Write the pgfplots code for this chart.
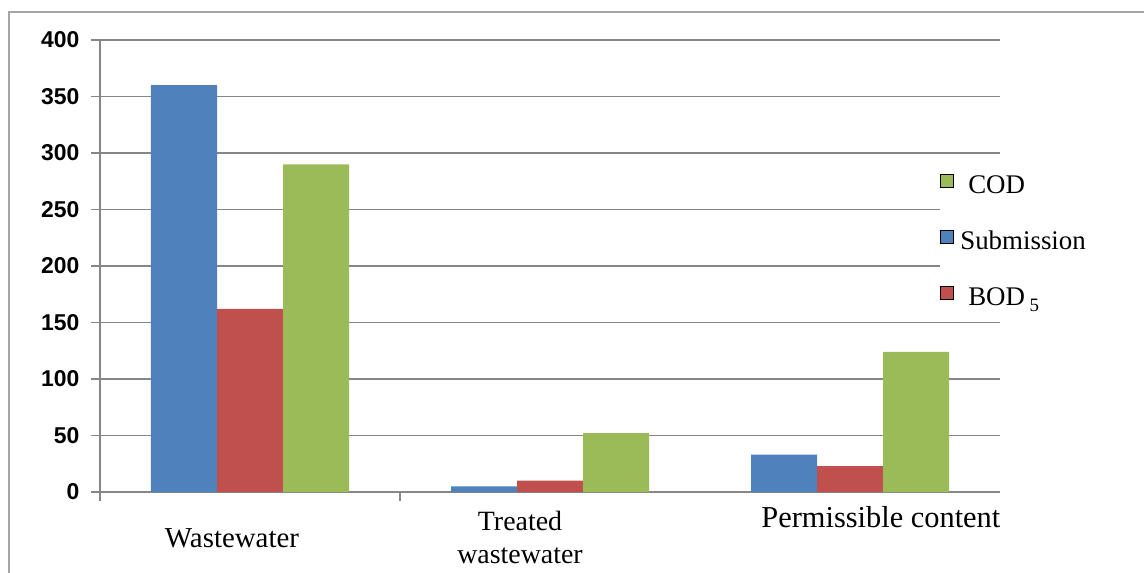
\documentclass[border=0pt]{standalone}
\usepackage{fontspec}
\setmainfont{Liberation Serif}
\newfontfamily\arialf{Liberation Sans}
\usepackage{pgfplots}
\pgfplotsset{compat=1.18}
\definecolor{cblue}{HTML}{4F81BD}
\definecolor{cred}{HTML}{C0504D}
\definecolor{cgreen}{HTML}{9BBB59}
\definecolor{gridc}{HTML}{868686}
\definecolor{framec}{HTML}{A6A6A6}
\begin{document}
\begin{tikzpicture}
\useasboundingbox (-100bp,-81bp) rectangle (1044bp,492bp);
\begin{axis}[
  at={(0,0)}, anchor=south west,
  scale only axis, width=900bp, height=452bp,
  xmin=-0.5, xmax=2.5, ymin=0, ymax=400,
  clip=false,
  axis lines*=left,
  axis line style={gridc, line width=1.4bp},
  every tick/.style={gridc, line width=1.4bp},
  tick align=outside,
  major tick length=9bp,
  xtick={-0.5,0.5}, xticklabels={},
  ytick={0,50,...,400},
  ymajorgrids,
  grid style={gridc, line width=1.4bp},
  /pgf/number format/assume math mode=true,
  yticklabel style={font=\arialf\bfseries\fontsize{23}{23}\selectfont, anchor=east, xshift=-8bp},
  ybar, bar width=66bp,
  legend style={at={(0.933,0.708)}, anchor=north west, draw=none, fill=white,
    font=\fontsize{27}{27}\selectfont, inner sep=0pt, row sep=27bp,
    nodes={inner sep=2bp, text height=19bp, text depth=6bp}},
  legend cell align=left,
  legend image code/.code={\fill[#1] (0bp,-1bp) rectangle (13bp,12bp);},
]
\addlegendimage{fill=cgreen}\addlegendentry{\hspace{13bp}COD}
\addlegendimage{fill=cblue}\addlegendentry{\hspace{5bp}Submission}
\addlegendimage{fill=cred}\addlegendentry{\hspace{13bp}BOD\,\raisebox{-6bp}{\fontsize{19}{19}\selectfont 5}}
\addplot[fill=cblue, draw=none, bar shift=-66bp, forget plot] coordinates {(0,360) (1,5) (2,33)};
\addplot[fill=cred, draw=none, bar shift=0bp, forget plot] coordinates {(0,162) (1,10) (2,23)};
\addplot[fill=cgreen, draw=none, bar shift=66bp, forget plot] coordinates {(0,290) (1,52) (2,124)};
\node[anchor=base, font=\fontsize{29}{29}\selectfont, yshift=-55bp] at (axis cs:-0.06,0) {Wastewater};
\node[anchor=base, font=\fontsize{28}{33}\selectfont, align=center, yshift=-71bp] at (axis cs:0.9,0) {Treated\\wastewater};
\node[anchor=base, font=\fontsize{30.5}{30.5}\selectfont, yshift=-35bp] at (axis cs:2.103,0) {Permissible content};
\end{axis}
\draw[framec, line width=1.5bp] (-91bp,-90bp) -- (-91bp,480bp) -- (1050bp,480bp);
\end{tikzpicture}
\end{document}
